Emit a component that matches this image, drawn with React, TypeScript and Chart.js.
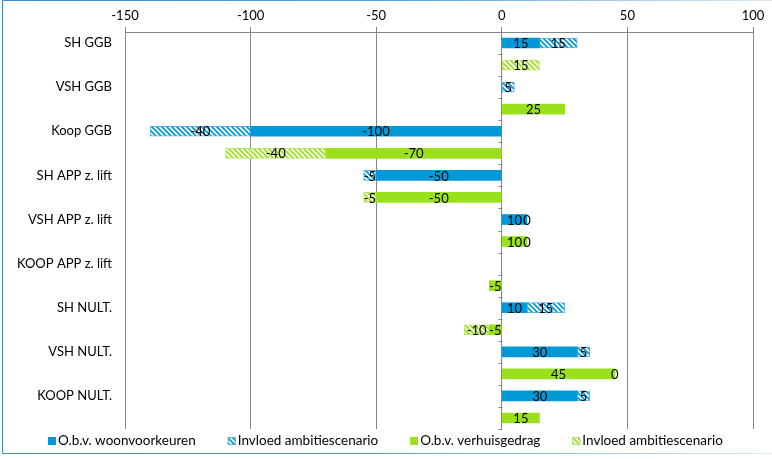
import React, { useEffect, useRef } from "react";
import { Chart, registerables } from "chart.js";
Chart.register(...registerables);

const categories = [
  "SH GGB",
  "VSH GGB",
  "Koop GGB",
  "SH APP z. lift",
  "VSH APP z. lift",
  "KOOP APP z. lift",
  "SH NULT.",
  "VSH NULT.",
  "KOOP NULT.",
];
const woonvoorkeuren: (number | null)[] = [15, null, -100, -50, 10, null, 10, 30, 30];
const ambitieWoon: (number | null)[] = [15, 5, -40, -5, 0, null, 15, 5, 5];
const verhuisgedrag: (number | null)[] = [null, 25, -70, -50, 10, -5, -5, 45, 15];
const ambitieVerhuis: (number | null)[] = [15, null, -40, -5, 0, null, -10, 0, null];
const xMin = -150;
const xMax = 100;
const xStep = 50;
const seriesLabels = [
  "O.b.v. woonvoorkeuren",
  "Invloed ambitiescenario",
  "O.b.v. verhuisgedrag",
  "Invloed ambitiescenario",
];

const BLUE = "#0099D8";
const GREEN = "#9BE01C";
const FONT = "Lato, 'Open Sans', sans-serif";

function hatch(color: string) {
  const s = 5;
  const c = document.createElement("canvas");
  c.width = s;
  c.height = s;
  const g = c.getContext("2d")!;
  g.fillStyle = "#ffffff";
  g.fillRect(0, 0, s, s);
  g.strokeStyle = color;
  g.lineWidth = 1.7;
  g.beginPath();
  for (const o of [-s, 0, s]) {
    g.moveTo(o - 1, -1);
    g.lineTo(o + s + 1, s + 1);
  }
  g.stroke();
  return g.createPattern(c, "repeat")!;
}

// 18 rows: blue row then green row per category
const rowLabels = categories.flatMap((c) => [c, ""]);
const onBlue = (arr: (number | null)[]) => arr.flatMap((v) => [v, null]);
const onGreen = (arr: (number | null)[]) => arr.flatMap((v) => [null, v]);

const dataLabelPlugin = {
  id: "dataLabels",
  afterDatasetsDraw(chart: any) {
    const ctx = chart.ctx;
    ctx.save();
    ctx.font = `13px ${FONT}`;
    ctx.fillStyle = "#000";
    ctx.textAlign = "center";
    ctx.textBaseline = "middle";
    chart.data.datasets.forEach((ds: any, di: number) => {
      const meta = chart.getDatasetMeta(di);
      meta.data.forEach((el: any, i: number) => {
        const v = ds.data[i];
        if (v === null || v === undefined) return;
        const x = (el.x + el.base) / 2;
        ctx.fillText(String(v), x, el.y + 1);
      });
    });
    ctx.restore();
  },
};

const zeroTicksPlugin = {
  id: "zeroTicks",
  afterDraw(chart: any) {
    const { ctx, chartArea, scales } = chart;
    const x0 = Math.round(scales.x.getPixelForValue(0)) + 0.5;
    const n = rowLabels.length;
    const h = (chartArea.bottom - chartArea.top) / n;
    ctx.save();
    ctx.strokeStyle = "#868686";
    ctx.lineWidth = 1;
    ctx.beginPath();
    for (let i = 1; i <= n; i++) {
      const y = Math.round(chartArea.top + i * h) + 0.5;
      ctx.moveTo(x0 - 4, y);
      ctx.lineTo(x0, y);
    }
    ctx.stroke();
    ctx.restore();
  },
};

const legendPlugin = {
  id: "customLegend",
  afterDraw(chart: any) {
    const ctx = chart.ctx;
    ctx.save();
    ctx.font = `13.5px ${FONT}`;
    ctx.textBaseline = "middle";
    ctx.textAlign = "left";
    const box = 8;
    const gapText = 2;
    const gap = 32;
    const items = chart.data.datasets.map((d: any) => ({
      label: d.label,
      fill: d.backgroundColor,
      border: d.borderWidth ? d.borderColor : null,
    }));
    const widths = items.map((it: any) => box + gapText + ctx.measureText(it.label).width);
    const total = widths.reduce((a: number, b: number) => a + b, 0) + gap * (items.length - 1);
    let x = Math.round(385 - total / 2);
    const y = 441;
    items.forEach((it: any, i: number) => {
      ctx.fillStyle = it.fill;
      ctx.fillRect(x, y - 4, box, box);
      if (it.border) {
        ctx.strokeStyle = it.border;
        ctx.lineWidth = 1;
        ctx.strokeRect(x + 0.5, y - 3.5, box - 1, box - 1);
      }
      ctx.fillStyle = "#000";
      ctx.fillText(it.label, x + box + gapText, y);
      x += widths[i] + gap;
    });
    ctx.restore();
  },
};

const framePlugin = {
  id: "frame",
  afterDraw(chart: any) {
    const ctx = chart.ctx;
    ctx.save();
    const grad = ctx.createLinearGradient(0, 0, chart.width, 0);
    grad.addColorStop(0, "#3C8CC8");
    grad.addColorStop(0.5, "#5AA0D4");
    grad.addColorStop(1, "#DCEAF5");
    ctx.strokeStyle = grad;
    ctx.lineWidth = 1;
    ctx.beginPath();
    ctx.moveTo(chart.width, 0.5);
    ctx.lineTo(2.5, 0.5);
    ctx.lineTo(2.5, 453.5);
    ctx.lineTo(chart.width, 453.5);
    ctx.stroke();
    ctx.restore();
  },
};

export default function App() {
  const ref = useRef<HTMLCanvasElement | null>(null);
  useEffect(() => {
    document.body.style.margin = "0";
    const blueHatch = hatch(BLUE);
    const greenHatch = hatch(GREEN);
    const chart = new Chart(ref.current!, {
      type: "bar",
      data: {
        labels: rowLabels,
        datasets: [
          {
            label: seriesLabels[0],
            data: onBlue(woonvoorkeuren),
            backgroundColor: BLUE,
            borderWidth: 0,
          },
          {
            label: seriesLabels[1],
            data: onBlue(ambitieWoon),
            backgroundColor: blueHatch as any,
            borderColor: "#5DB0E2",
            borderWidth: 1,
            borderSkipped: false,
          },
          {
            label: seriesLabels[2],
            data: onGreen(verhuisgedrag),
            backgroundColor: GREEN,
            borderWidth: 0,
          },
          {
            label: seriesLabels[3],
            data: onGreen(ambitieVerhuis),
            backgroundColor: greenHatch as any,
            borderColor: "#B5E86A",
            borderWidth: 1,
            borderSkipped: false,
          },
        ] as any,
      },
      options: {
        responsive: false,
        animation: false,
        indexAxis: "y",
        barThickness: 10,
        layout: { padding: { top: 0, left: 0, right: 19, bottom: 30 } },
        plugins: {
          legend: { display: false },
          tooltip: { enabled: false },
        },
        scales: {
          x: {
            type: "linear",
            position: "top",
            stacked: true,
            min: xMin,
            max: xMax,
            ticks: {
              stepSize: xStep,
              color: "#000",
              padding: 3,
              font: { family: FONT, size: 13 },
            },
            grid: {
              color: "#868686",
              lineWidth: 1,
              tickLength: 5,
              drawTicks: true,
            },
            border: { display: true, color: "#868686" },
            afterFit: (s: any) => {
              s.height = 32;
            },
          },
          y: {
            type: "category",
            stacked: true,
            grid: { display: false, drawTicks: false },
            border: { display: false },
            ticks: {
              autoSkip: false,
              color: "#000",
              padding: 13,
              font: { family: FONT, size: 13 },
            },
            afterFit: (s: any) => {
              s.width = 125;
            },
          },
        },
      } as any,
      plugins: [dataLabelPlugin, zeroTicksPlugin, legendPlugin, framePlugin],
    });
    return () => chart.destroy();
  }, []);
  return (
    <div style={{ width: 772, height: 459, background: "#fff" }}>
      <canvas ref={ref} width={772} height={459} style={{ display: "block" }} />
    </div>
  );
}
